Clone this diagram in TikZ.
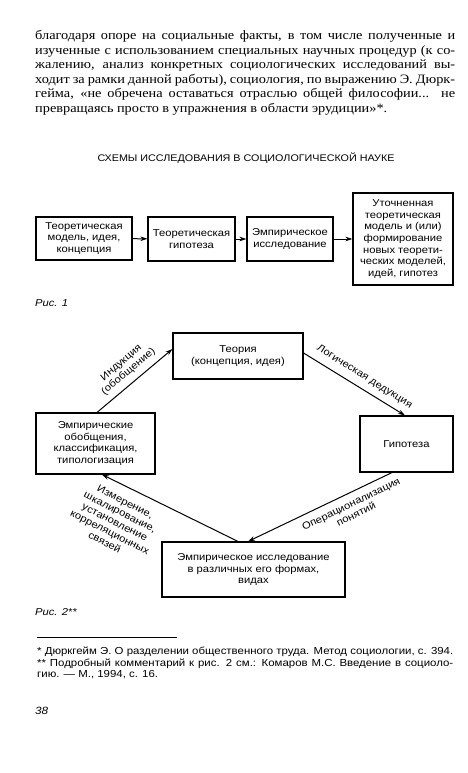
\documentclass[tikz,border=0pt]{standalone}
\usepackage{fontspec}
\setmainfont[FakeStretch=1.12]{Liberation Serif}
\newfontfamily\sans[FakeStretch=1.12]{Liberation Sans}
\usetikzlibrary{arrows.meta}
\newcommand\jline[1]{\makebox[420pt][s]{\spaceskip=0.27em plus 0.8em minus 0.16em\relax #1}}
\newcommand\lastline[1]{\spaceskip=0.27em plus 0.8em minus 0.16em\relax #1}
\begin{document}
\begin{tikzpicture}[x=1pt,y=-1pt,
  box/.style={draw, line width=1.1pt, inner sep=0pt, align=center, font=\sans\fontsize{10}{11.6}\selectfont},
  arr/.style={line width=1pt, -{Stealth[length=7pt,width=4.5pt]}},
  lab/.style={font=\sans\fontsize{10}{11.3}\selectfont, align=center, inner sep=0pt},
  para/.style={anchor=base west, inner sep=0pt, font=\fontsize{12.8}{14}\selectfont},
  foot/.style={anchor=base west, inner sep=0pt, font=\sans\fontsize{10.2}{11}\selectfont},
  figcap/.style={anchor=base west, inner sep=0pt, font=\sans\itshape\fontsize{10}{11}\selectfont},
]
\useasboundingbox (0,0) rectangle (468,773);
% paragraph
\node[para] (p1) at (35,40) {\jline{благодаря опоре на социальные факты, в том числе полученные и}};
\node[para] (p2) at (35,54.5) {\jline{изученные с использованием специальных научных процедур (к со-}};
\node[para] (p3) at (35,69) {\jline{жалению, анализ конкретных социологических исследований вы-}};
\node[para] (p4) at (35,83.5) {\jline{ходит за рамки данной работы), социология, по выражению Э. Дюрк-}};
\node[para] (p5) at (35,98) {\jline{гейма, «не обречена оставаться отраслью общей философии... не}};
\node[para] (p6) at (35,112.5) {\lastline{превращаясь просто в упражнения в области эрудиции»*.}};
% title
\node[anchor=base, inner sep=0pt, font=\sans\fontsize{9.6}{10}\selectfont] (title) at (246,161.5) {СХЕМЫ ИССЛЕДОВАНИЯ В СОЦИОЛОГИЧЕСКОЙ НАУКЕ};
% Fig 1
\node[box, minimum width=96pt, minimum height=43pt] (a1) at (84,238.5) {Теоретическая\\модель, идея,\\концепция};
\node[box, minimum width=87pt, minimum height=44pt] (a2) at (191.5,239) {Теоретическая\\гипотеза};
\node[box, minimum width=86pt, minimum height=44pt] (a3) at (290,239) {Эмпирическое\\исследование};
\node[box, minimum width=100pt, minimum height=92pt] (a4) at (403,239) {Уточненная\\теоретическая\\модель и (или)\\формирование\\новых теорети-\\ческих моделей,\\идей, гипотез};
\draw[arr] (a1) -- (a2);
\draw[arr] (a2) -- (a3);
\draw[arr] (a3) -- (a4);
\node[figcap] (r1) at (35,306.5) {Рис. 1};
% Fig 2
\node[box, minimum width=130pt, minimum height=46pt] (th) at (238,356) {Теория\\(концепция, идея)};
\node[box, minimum width=119pt, minimum height=61pt] (em) at (95.5,443.5) {Эмпирические\\обобщения,\\классификация,\\типологизация};
\node[box, minimum width=93pt, minimum height=56pt] (hy) at (406.5,444) {Гипотеза};
\node[box, minimum width=183pt, minimum height=55pt] (bt) at (253.5,569.5) {Эмпирическое исследование\\в различных его формах,\\видах};
\draw[arr] ([xshift=1.5pt]em.north) -- ([yshift=7pt]th.west);
\draw[arr] ([yshift=3pt]th.east) -- ([xshift=-1.5pt]hy.north);
\draw[arr] ([xshift=-14.5pt]hy.south) -- ([xshift=-5.5pt]bt.north);
\draw[arr] ([xshift=-15.5pt]bt.north) -- ([xshift=6.5pt]em.south);
\node[lab, rotate=40] (l1) at (125,367.5) {Индукция\\(обобщение)};
\node[lab, rotate=-32] (l2) at (364.5,377) {Логическая дедукция};
\node[lab, rotate=26] (l3) at (353.5,509) {Операционализация\\понятий};
\node[lab, rotate=-27] (l4) at (115,522) {Измерение,\\шкалирование,\\установление\\корреляционных\\связей};
\node[figcap] (r2) at (35,615.5) {Рис. 2**};
% footnotes
\draw[line width=0.6pt] (37,637) coordinate (fa) -- (177,637) coordinate (fb);
\node[foot] (f1) at (37,654.7) {* Дюркгейм Э. О разделении общественного труда. Метод социологии, с. 394.};
\node[foot] (f2) at (37,666) {\makebox[416pt][s]{** Подробный комментарий к рис. 2 см.: Комаров М.С. Введение в социоло-}};
\node[foot] (f3) at (37,677.3) {гию. — М., 1994, с. 16.};
\node[anchor=base west, inner sep=0pt, font=\sans\itshape\fontsize{10.5}{12}\selectfont] (pg) at (35,714) {38};
\end{tikzpicture}
\end{document}
